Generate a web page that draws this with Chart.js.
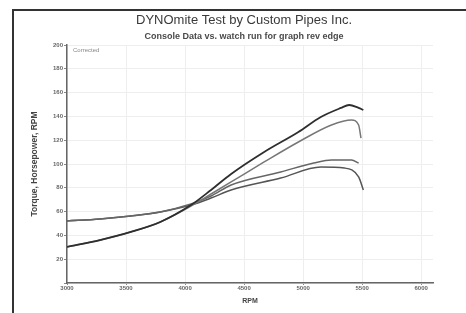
<!DOCTYPE html>
<html lang="en">
<head>
	<meta charset="UTF-8"/>
	<title>DYNOmite Test</title>
	<script src="https://cdn.jsdelivr.net/npm/chart.js"></script>
	<style>
		body {
			margin: 0;
			background: #fff;
			font-family: "Liberation Sans", Arial, sans-serif;
		}
		.frame {
			position: absolute;
			left: 12px;
			top: 9px;
			width: 460px;
			height: 310px;
			border-left: 2px solid #333;
			border-top: 2px solid #333;
		}
		#wrap {
			position: absolute;
			left: 0;
			top: 0;
			width: 466px;
			height: 313px;
		}
	</style>
</head>
<body>
<div class="frame"></div>
<div id="wrap"><canvas id="dyno"></canvas></div>

<script>
	const titleText = "DYNOmite Test by Custom Pipes Inc.";
	const subtitleText = "Console Data vs. watch run for graph rev edge";
	const cornerLabel = "Corrected";

	// run 1 (dark) and run 2 (grey), RPM vs value
	const rpmHp1 = [3000, 3280, 3540, 3790, 4050, 4220, 4390, 4670, 4960, 5150, 5320, 5390, 5470, 5510];
	const hp1 = [30.3, 36.1, 42.9, 51.3, 65.5, 78.2, 91.6, 110.1, 126.9, 139.5, 147.1, 149.6, 147.1, 145.4];

	const rpmHp2 = [3000, 3280, 3540, 3790, 4050, 4220, 4390, 4670, 4960, 5240, 5410, 5470, 5490];
	const hp2 = [30.3, 36.1, 42.9, 51.3, 64.7, 74.8, 84.9, 101.7, 118.5, 132.8, 137, 132.8, 121.8];

	const rpmTq1 = [3000, 3280, 3540, 3790, 4050, 4220, 4390, 4810, 5090, 5240, 5410, 5470];
	const tq1 = [52.1, 53.8, 56.3, 59.7, 66.4, 73.1, 82.4, 93.3, 100.8, 103.4, 103.4, 100.8];

	const rpmTq2 = [3000, 3280, 3540, 3790, 4050, 4220, 4390, 4810, 5150, 5350, 5470, 5510];
	const tq2 = [52.1, 53.8, 56.3, 59.7, 65.5, 71.4, 78.2, 88.2, 97.5, 96.6, 89.1, 78.2];

	const rpmTicks = [3000, 3500, 4000, 4500, 5000, 5500, 6000];
	const xMin = 3000, xMax = 6100;
	const yMin = 0, yMax = 200, yStep = 20;

	function pts(xs, ys) {
		return xs.map((x, i) => ({ x: x, y: ys[i] }));
	}

	function series(label, xs, ys, color, width) {
		return {
			label: label,
			data: pts(xs, ys),
			borderColor: color,
			borderWidth: width,
			pointRadius: 0,
			cubicInterpolationMode: "monotone",
			fill: false
		};
	}

	// title, subtitle and the small corner tag
	const headerText = {
		id: "headerText",
		afterDraw(chart) {
			const c = chart.ctx;
			const area = chart.chartArea;
			c.save();
			c.textAlign = "center";
			c.textBaseline = "middle";
			c.fillStyle = "#3a3a3a";
			c.font = "13px 'Liberation Sans', Arial, sans-serif";
			c.fillText(titleText, 244, 20);
			c.font = "bold 9px 'Liberation Sans', Arial, sans-serif";
			c.fillStyle = "#4a4a4a";
			c.fillText(subtitleText, 244, 37);
			c.textAlign = "left";
			c.font = "6px 'Liberation Sans', Arial, sans-serif";
			c.fillStyle = "#888";
			c.fillText(cornerLabel, area.left + 6, area.top + 5);
			c.restore();
		}
	};

	const ctx = document.getElementById("dyno").getContext("2d");
	new Chart(ctx, {
		type: "line",
		data: {
			datasets: [
				series("HP run 1", rpmHp1, hp1, "#2e2e2e", 1.8),
				series("HP run 2", rpmHp2, hp2, "#777", 1.5),
				series("Torque run 1", rpmTq1, tq1, "#666", 1.5),
				series("Torque run 2", rpmTq2, tq2, "#555", 1.5)
			]
		},
		options: {
			responsive: true,
			maintainAspectRatio: false,
			animation: false,
			layout: { padding: { left: 20, right: 33, top: 45, bottom: 8 } },
			plugins: {
				legend: { display: false },
				tooltip: { enabled: false }
			},
			scales: {
				x: {
					type: "linear",
					min: xMin,
					max: xMax,
					afterBuildTicks(scale) {
						scale.ticks = rpmTicks.map(v => ({ value: v }));
					},
					ticks: {
						autoSkip: false,
						padding: 0,
						color: "#666",
						font: { size: 6, weight: "bold" },
						maxRotation: 0,
						callback: v => String(v)
					},
					afterFit(scale) { scale.height = 22; },
					grid: { color: "#eeeeee", tickLength: 2, tickColor: "#888" },
					border: { color: "#666", width: 1.5 },
					title: {
						display: true,
						text: "RPM",
						color: "#444",
						font: { size: 7, weight: "bold" },
						padding: { top: 4, bottom: 0 }
					}
				},
				y: {
					min: yMin,
					max: yMax,
					ticks: {
						stepSize: yStep,
						padding: 1,
						color: "#666",
						font: { size: 6, weight: "bold" },
						callback: v => (v === 0 ? "" : String(v))
					},
					afterFit(scale) { scale.width = 47; },
					grid: { color: "#eeeeee", tickLength: 3, tickColor: "#888" },
					border: { color: "#666", width: 1.5 },
					title: {
						display: true,
						text: "Torque, Horsepower, RPM",
						color: "#444",
						font: { size: 8.5, weight: "bold" },
						padding: { top: 10, bottom: 0 }
					}
				}
			}
		},
		plugins: [headerText]
	});
</script>
</body>
</html>
